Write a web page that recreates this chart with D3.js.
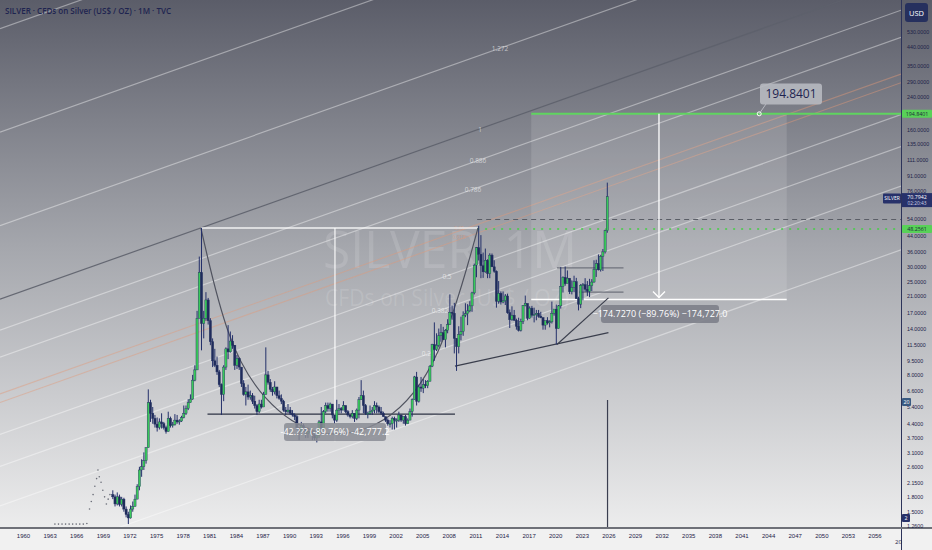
<!DOCTYPE html>
<html><head><meta charset="utf-8">
<script src="https://cdn.jsdelivr.net/npm/d3@7"></script>
<style>
body{margin:0;background:#f0f0f0;}
svg{display:block;font-family:"Open Sans","Noto Sans",Lato,sans-serif;}
</style>
</head><body>
<svg id="c" width="932" height="550"></svg>
<script>
// ---------------- DATA ----------------
const firstYear = 1970;
// quarterly closes, highs, lows (USD/oz), one row per year 1970..2025
const qClose = [
[1.80,1.65,1.80,1.64],[1.75,1.55,1.45,1.39],[1.55,1.60,1.75,2.04],[2.50,2.60,2.80,3.28],
[5.70,5.00,4.70,4.38],[4.20,4.50,4.40,4.20],[4.00,4.70,4.30,4.35],[4.60,4.50,4.55,4.75],
[5.00,5.30,5.70,5.95],[7.50,8.50,16.0,28.0],[15.0,16.0,20.0,15.5],[12.0,9.5,9.0,8.3],
[7.1,6.3,8.8,11.0],[10.6,12.1,11.5,9.0],[9.8,8.8,7.2,6.3],[6.5,6.1,6.2,5.8],
[5.5,5.1,5.6,5.4],[6.3,8.0,7.3,6.7],[6.5,6.9,6.2,6.0],[5.8,5.2,5.1,5.2],
[5.0,4.9,4.8,4.2],[4.0,4.3,4.1,3.9],[4.0,4.0,3.8,3.7],[3.8,4.5,4.1,5.1],
[5.5,5.3,5.6,4.9],[4.6,5.2,5.3,5.2],[5.5,5.1,4.9,4.8],[5.0,4.7,5.2,5.9],
[6.2,5.5,5.0,5.0],[5.1,5.2,5.5,5.4],[5.1,5.0,4.8,4.6],[4.4,4.4,4.7,4.6],
[4.6,4.9,4.6,4.8],[4.4,4.6,5.1,5.9],[7.8,5.8,6.9,6.8],[7.1,7.0,7.4,8.9],
[11.6,10.9,11.5,12.9],[13.4,12.3,13.8,14.8],[17.2,17.0,12.5,11.3],[13.1,13.6,16.6,16.9],
[17.5,18.6,21.8,30.6],[37.9,35.0,30.4,28.2],[32.5,27.6,34.6,30.0],[28.4,19.7,21.7,19.5],
[19.8,21.0,17.1,15.7],[16.6,15.6,14.5,13.8],[15.4,18.7,19.2,16.0],[18.1,16.6,16.7,17.0],
[16.4,16.1,14.7,15.5],[15.1,15.3,17.0,17.9],[14.1,18.6,23.6,26.4],[24.4,26.1,22.1,23.3],
[25.0,20.3,19.0,23.9],[24.1,22.8,22.2,23.8],[24.9,29.1,31.2,28.9],[34.1,36.0,46.6,70.8]
];
const qHigh = [
[1.95,1.85,1.90,1.85],[1.80,1.78,1.60,1.50],[1.62,1.70,1.85,2.10],[2.60,2.85,3.10,3.30],
[6.70,5.90,5.40,4.90],[4.75,4.70,5.00,4.50],[4.30,5.10,4.80,4.50],[4.95,4.90,4.65,4.85],
[5.50,5.50,5.95,6.30],[8.0,9.0,17.5,34.0],[48.3,17.5,22.0,20.5],[16.0,12.5,11.0,10.0],
[8.5,7.2,9.0,11.2],[14.7,13.6,13.0,11.5],[10.2,9.9,8.7,7.5],[6.9,7.1,6.6,6.4],
[6.2,5.6,5.9,5.9],[6.5,11.2,8.4,7.6],[6.9,7.4,6.9,6.6],[6.3,5.9,5.4,5.6],
[5.4,5.2,5.0,4.9],[4.1,4.5,4.4,4.1],[4.2,4.1,4.0,3.9],[3.9,4.6,5.4,5.2],
[5.7,5.7,5.7,5.4],[4.9,5.9,5.6,5.4],[5.8,5.5,5.2,4.9],[5.2,5.0,5.3,6.1],
[7.5,6.6,5.6,5.1],[5.5,5.4,5.8,5.7],[5.5,5.4,5.1,4.8],[4.7,4.6,4.8,4.8],
[4.7,5.1,4.9,4.8],[4.9,4.7,5.3,6.0],[7.9,8.3,7.1,7.8],[7.6,7.5,7.5,9.0],
[11.7,15.2,13.3,14.1],[14.9,14.4,14.0,15.8],[21.4,18.7,19.3,12.5],[14.5,16.3,17.4,19.2],
[19.0,19.7,22.1,31.2],[38.2,49.5,44.2,35.7],[37.5,32.9,35.4,35.3],[32.5,28.7,25.2,22.2],
[22.2,21.5,21.6,17.8],[18.5,17.7,15.9,16.1],[15.9,18.8,21.1,18.6],[18.5,18.6,18.2,17.7],
[17.7,17.3,16.2,15.5],[16.2,15.6,19.6,17.9],[18.9,18.8,29.9,26.7],[30.1,28.7,26.0,25.4],
[26.9,26.2,20.8,24.3],[24.6,26.1,25.2,25.9],[25.8,32.5,32.7,34.9],[34.6,37.3,47.2,84.0]
];
const qLow = [
[1.75,1.60,1.62,1.60],[1.60,1.50,1.40,1.29],[1.38,1.50,1.60,1.75],[1.95,2.30,2.50,2.70],
[3.30,4.50,4.40,4.20],[4.00,4.10,4.15,4.10],[3.90,4.00,4.20,4.20],[4.30,4.40,4.35,4.50],
[4.70,4.90,5.20,5.70],[5.90,7.40,8.50,16.0],[10.8,12.5,15.5,14.8],[11.5,8.8,8.8,8.0],
[6.9,4.9,5.8,8.5],[9.7,10.5,11.0,8.5],[8.6,8.5,6.9,6.2],[5.5,5.9,5.9,5.6],
[5.3,4.9,5.0,5.3],[5.4,6.3,7.1,6.5],[6.2,6.3,6.0,5.9],[5.6,5.1,4.9,5.0],
[4.9,4.8,4.6,4.1],[3.6,3.9,4.0,3.7],[3.7,3.9,3.6,3.6],[3.5,3.7,3.9,4.2],
[5.0,5.1,5.1,4.7],[4.4,4.5,5.0,5.0],[5.2,5.0,4.8,4.7],[4.7,4.5,4.6,4.7],
[5.9,5.0,4.9,4.7],[4.9,4.9,5.0,5.0],[5.0,4.9,4.8,4.5],[4.3,4.2,4.1,4.1],
[4.2,4.5,4.5,4.4],[4.3,4.4,4.6,4.8],[5.9,5.5,5.7,6.5],[6.4,6.8,6.8,7.4],
[8.8,9.5,10.7,11.2],[12.0,12.3,11.2,13.3],[14.8,15.7,10.4,8.4],[10.4,12.2,12.9,16.2],
[14.7,17.2,17.3,21.4],[26.4,32.4,26.1,26.2],[27.9,26.1,26.1,29.9],[27.9,18.2,19.1,18.9],
[19.2,18.8,16.9,14.2],[15.5,15.5,13.9,13.6],[13.6,14.9,18.5,15.6],[15.9,16.1,15.2,15.6],
[16.1,16.0,13.9,13.9],[14.8,14.3,15.0,16.5],[11.6,14.1,18.0,21.9],[23.8,24.6,21.5,21.4],
[22.0,20.4,17.6,18.1],[19.9,22.1,21.0,20.7],[22.3,24.7,26.5,28.7],[28.3,28.5,35.3,45.5]
];
// sparse early quotes drawn as dots (year, price)
const earlyDotYears  = [1963.6,1964.0,1964.4,1964.8,1965.2,1965.6,1966.0,1966.4,1966.8,1967.2,
                        1967.5,1967.7,1967.9,1968.1,1968.3,1968.45,1968.6,1968.8,1969.0,1969.2,1969.4,1969.6,1969.8];
const earlyDotPrices = [1.29,1.29,1.29,1.29,1.29,1.29,1.29,1.29,1.29,1.30,
                        1.55,1.70,1.85,2.05,2.25,2.50,2.30,2.15,1.95,1.80,1.65,1.75,1.85];

const yTicks = [530,440,350,290,240,160,135,111,91,76,54,44,36,30,25,21,17,14,11.5,9.5,8,6.6,5.4,4.4,3.7,3.1,2.6,2.15,1.8,1.5,1.26];
const xTickYears = [1960,1963,1966,1969,1972,1975,1978,1981,1984,1987,1990,1993,1996,1999,2002,2005,2008,
                    2011,2014,2017,2020,2023,2026,2029,2032,2035,2038,2041,2044,2047,2050,2053,2056,2059];

// drawing anchors (year, price)
const peak1980 = {year:1980.05, price:48.26};
const peak2011 = {year:2011.32, price:48.26};
const low1971  = {year:1971.9, price:1.29};
const support  = {from:1980.8, to:2008.7, price:4.95};
const resistDash = 53.5;
const target   = 194.8401;
const projLow  = 20.11;
const projFrom = 2017.3, projTo = 2046.1, projMid = 2031.7, targetLabelYear = 2043.0;
const measureX = 1995.17;
const boxLevels = [29.6, 22.0];
const measure1 = "-42.??? (-89.76%) -42,777.2";
const measure2 = "\u2212174.7270 (\u221289.76%) \u2212174,727.0";
const lastPrice = 70.7942;

// fib channel: level 0 through the 1971 low, level 1 through the 1980 high
const fibLevels = [0, 0.236, 0.382, 0.5, 0.786, 0.886, 1, 1.272, 1.618, 2];
const orangeLevels = [0.618, 0.65];
const labelLevels = ["0.236","0.382","0.5","0.618","0.65","0.786","0.886","1","1.272"];
const labelXs     = [430, 440, 447, 459, 459, 473, 478, 480, 500];

// ---------------- SCALES ----------------
const W = 932, H = 550, plotR = 901, plotB = 527;
const x = d3.scaleLinear().domain([1960, 2059]).range([23, 23 + 99*8.87]);
const y = d3.scaleLog().domain([1.26, 530]).range([526, 32]);

const svg = d3.select("#c");
const defs = svg.append("defs");
const bg = defs.append("linearGradient").attr("id","bg").attr("x1",0).attr("y1",0).attr("x2",0).attr("y2",1);
bg.append("stop").attr("offset","0%").attr("stop-color","#5b5d69");
bg.append("stop").attr("offset","45%").attr("stop-color","#a5a7ad");
bg.append("stop").attr("offset","100%").attr("stop-color","#f2f2f2");
defs.append("clipPath").attr("id","plotClip").append("rect").attr("x",0).attr("y",0).attr("width",plotR).attr("height",plotB);

svg.append("rect").attr("width",W).attr("height",H).attr("fill","url(#bg)");
svg.append("rect").attr("x",0).attr("y",plotB).attr("width",W).attr("height",H-plotB).attr("fill","#f1f1f1");

const g = svg.append("g").attr("clip-path","url(#plotClip)");

// watermark
g.append("text").attr("x",450).attr("y",268).attr("text-anchor","middle").attr("font-size",52)
  .attr("textLength",254).attr("lengthAdjust","spacingAndGlyphs")
  .attr("fill","#ffffff").attr("fill-opacity",0.13).text("SILVER, 1M");
g.append("text").attr("x",447).attr("y",306).attr("text-anchor","middle").attr("font-size",23)
  .attr("textLength",244).attr("lengthAdjust","spacingAndGlyphs")
  .attr("fill","#ffffff").attr("fill-opacity",0.13).text("CFDs on Silver (US$ / OZ)");

// fib channel lines
const p0 = [x(low1971.year), y(low1971.price)];
const p1 = [x(peak1980.year), y(peak1980.price)];
const slope = -0.355;
const b0 = p0[1] - slope*p0[0];
const b1 = p1[1] - slope*p1[0];
const bAt = L => b0 + L*(b1-b0);
fibLevels.forEach((L)=>{
  const b = bAt(L);
  g.append("line").attr("x1",0).attr("y1",b).attr("x2",plotR).attr("y2",b+slope*plotR)
    .attr("stroke", L===1 ? "#5d606c" : "#ffffff").attr("stroke-opacity", L===1?0.9:0.4).attr("stroke-width",1.2);
});
orangeLevels.forEach((L)=>{
  const b = bAt(L);
  g.append("line").attr("x1",0).attr("y1",b).attr("x2",plotR).attr("y2",b+slope*plotR)
    .attr("stroke","#e29a78").attr("stroke-opacity",0.45).attr("stroke-width",1.1);
});
// level labels
labelLevels.forEach((k,i)=>{
  const L = +k, xx = labelXs[i];
  const orange = orangeLevels.includes(L);
  g.append("text").attr("x",xx).attr("y",bAt(L)+slope*xx+ (orange?-1:3)).attr("text-anchor","middle").attr("font-size",orange?5:6.5)
   .attr("fill",orange?"#e29a78":"#ffffff").attr("fill-opacity",0.6).text(k);
});

// projection box
g.append("rect").attr("x",x(projFrom)).attr("y",y(target)).attr("width",x(projTo)-x(projFrom))
  .attr("height",y(projLow)-y(target)).attr("fill","#ffffff").attr("fill-opacity",0.12);

// horizontal lines
g.append("line").attr("x1",x(peak1980.year)).attr("x2",x(peak2011.year)).attr("y1",y(48.26)).attr("y2",y(48.26))
  .attr("stroke","#ffffff").attr("stroke-opacity",0.85).attr("stroke-width",1.5);
g.append("line").attr("x1",x(2011.2)).attr("x2",plotR).attr("y1",y(resistDash)).attr("y2",y(resistDash))
  .attr("stroke","#5a5d66").attr("stroke-width",1.2).attr("stroke-dasharray","5,4");
g.append("line").attr("x1",x(2011.2)).attr("x2",plotR).attr("y1",y(48.2561)+1).attr("y2",y(48.2561)+1)
  .attr("stroke","#44d044").attr("stroke-width",1.5).attr("stroke-dasharray","2,6");
g.append("line").attr("x1",x(support.from)).attr("x2",x(support.to)).attr("y1",y(support.price)).attr("y2",y(support.price))
  .attr("stroke","#2e3344").attr("stroke-width",1.3);
boxLevels.forEach((p,i)=>{
  g.append("line").attr("x1",x(i?2022.7:2020.2)).attr("x2",x(2027.7)).attr("y1",y(p)).attr("y2",y(p))
    .attr("stroke","#6f727c").attr("stroke-width",1.1);
});
// measure vertical 1
g.append("line").attr("x1",x(measureX)).attr("x2",x(measureX)).attr("y1",y(48.26)).attr("y2",y(3.55))
  .attr("stroke","#ffffff").attr("stroke-opacity",0.85).attr("stroke-width",1.3);

// target line & projection
g.append("line").attr("x1",x(projFrom)).attr("x2",plotR).attr("y1",y(target)).attr("y2",y(target))
  .attr("stroke","#5fd45f").attr("stroke-width",2);
g.append("line").attr("x1",x(projMid)).attr("x2",x(projMid)).attr("y1",y(target)).attr("y2",y(projLow)-2)
  .attr("stroke","#ffffff").attr("stroke-width",1.3);
g.append("path").attr("d",`M${x(projMid)-6},${y(projLow)-8} L${x(projMid)},${y(projLow)-2} L${x(projMid)+6},${y(projLow)-8}`)
  .attr("fill","none").attr("stroke","#ffffff").attr("stroke-width",1.3);
g.append("line").attr("x1",x(projFrom)).attr("x2",x(projTo)).attr("y1",y(projLow)).attr("y2",y(projLow))
  .attr("stroke","#ffffff").attr("stroke-width",1.3);

// cup curve
const cup = d3.line().curve(d3.curveBasis).x(d=>x(d[0])).y(d=>y(d[1]));
g.append("path").attr("d",cup([[1980.05,48.26],[1983,12],[1987,5.8],[1993.2,3.55],[2001,4.2],[2007,9],[2011.3,48.26]]))
  .attr("fill","none").attr("stroke","#50535f").attr("stroke-width",1.2);

// trend lines
g.append("line").attr("x1",x(2008.7)).attr("y1",y(8.9)).attr("x2",x(2026)).attr("y2",y(13.4)).attr("stroke","#3a3e4c").attr("stroke-width",1.3);
g.append("line").attr("x1",x(2020.2)).attr("y1",y(11.6)).attr("x2",x(2026)).attr("y2",y(20.5)).attr("stroke","#3a3e4c").attr("stroke-width",1.1);

// early dots
g.selectAll("circle.early").data(earlyDotYears).enter().append("circle")
  .attr("cx",(d)=>x(d)).attr("cy",(d,i)=>y(earlyDotPrices[i])).attr("r",0.8).attr("fill","#6a6d78");

// candles
const candles = [];
let prev = 1.85;
qClose.forEach((row,yi)=>row.forEach((c,q)=>{
  candles.push({t: firstYear+yi+(q+0.5)/4, o:prev, c:c, h:qHigh[yi][q], l:qLow[yi][q]});
  prev = c;
}));
const cw = 1.1;
const cg = g.append("g");
candles.forEach(d=>{
  const up = d.c>=d.o;
  const col = up ? "#39c95a" : "#1f2b5c";
  cg.append("line").attr("x1",x(d.t)).attr("x2",x(d.t)).attr("y1",y(d.h)).attr("y2",y(d.l)).attr("stroke","#24306a").attr("stroke-width",1);
  const y0 = Math.min(y(d.o),y(d.c)), y1 = Math.max(y(d.o),y(d.c));
  cg.append("rect").attr("x",x(d.t)-cw).attr("width",cw*2).attr("y",y0).attr("height",Math.max(1,y1-y0))
    .attr("fill",col).attr("stroke","#22305e").attr("stroke-width",0.4);
});

// vertical current line at bottom (volume spike)
g.append("line").attr("x1",x(2025.9)).attr("x2",x(2025.9)).attr("y1",400).attr("y2",plotB).attr("stroke","#3a3e50").attr("stroke-width",1.2);

// labels on measures
function boxLabel(cx, cy, w, h, txt, fs, color, bgc, bgo){
  svg.append("rect").attr("x",cx-w/2).attr("y",cy-h/2).attr("width",w).attr("height",h).attr("rx",3)
    .attr("fill",bgc).attr("fill-opacity",bgo);
  svg.append("text").attr("x",cx).attr("y",cy+fs*0.35).attr("text-anchor","middle").attr("font-size",fs)
    .attr("fill",color).text(txt);
}
boxLabel(335, 432, 102, 18, measure1, 9, "#ffffff", "#8a8c94", 0.85);
boxLabel(660, 314, 118, 18, measure2, 9, "#ffffff", "#7d8089", 0.9);
boxLabel(791, 94, 62, 21, d3.format(".4f")(target), 12, "#1e2450", "#b7b9c0", 0.9);
svg.append("line").attr("x1",x(targetLabelYear)).attr("y1",y(target)).attr("x2",766).attr("y2",104).attr("stroke","#b7b9c0");
svg.append("circle").attr("cx",x(targetLabelYear)).attr("cy",y(target)).attr("r",2).attr("fill","none").attr("stroke","#fff");

// ---------------- AXES ----------------
svg.append("line").attr("x1",plotR+0.5).attr("x2",plotR+0.5).attr("y1",0).attr("y2",H).attr("stroke","#2c335a").attr("stroke-width",1);
svg.append("line").attr("x1",0).attr("x2",W).attr("y1",plotB+1).attr("y2",plotB+1).attr("stroke","#6e7078").attr("stroke-width",2);

const yAxis = d3.axisRight(y).tickValues(yTicks).tickSize(0).tickFormat(d3.format(".4f"));
const ya = svg.append("g").attr("transform",`translate(${plotR+3},0)`).call(yAxis);
ya.select(".domain").remove();
ya.selectAll("text").attr("font-size",5.3).attr("fill","#1d2248").attr("dx",0);

const xAxis = d3.axisBottom(x).tickValues(xTickYears).tickSize(0).tickFormat(d=>String(d));
const xa = svg.append("g").attr("transform",`translate(0,${plotB+4})`).call(xAxis);
xa.select(".domain").remove();
xa.selectAll("text").attr("font-size",6).attr("fill","#1d2248");
xa.selectAll(".tick").filter(d=>x(d)>plotR-6).remove();
svg.append("text").attr("x",895).attr("y",544).attr("font-size",6).attr("fill","#1d2248").text("20");

// right-side badges
function badge(x0,yc,w,h,txt,fill,tc,fs){
  svg.append("rect").attr("x",x0).attr("y",yc-h/2).attr("width",w).attr("height",h).attr("fill",fill).attr("rx",1);
  svg.append("text").attr("x",x0+w/2).attr("y",yc+fs*0.35).attr("text-anchor","middle").attr("font-size",fs).attr("fill",tc).text(txt);
}
svg.append("rect").attr("x",905).attr("y",3).attr("width",23).attr("height",19).attr("rx",3).attr("fill","#26305e");
svg.append("text").attr("x",916.5).attr("y",15.5).attr("text-anchor","middle").attr("font-size",7.5).attr("fill","#ffffff").text("USD");
badge(902, y(target), 30, 8, d3.format(".4f")(target), "#58d158", "#1c2a3a", 5.3);
badge(902, y(48.2561)+1, 30, 8, "48.2561", "#58d158", "#1c2a3a", 5.3);
const lpY = y(lastPrice)+3;
badge(883, lpY-1, 18, 10, "SILVER", "#27316a", "#ffffff", 5);
svg.append("rect").attr("x",902).attr("y",lpY-6.5).attr("width",30).attr("height",14).attr("fill","#27316a");
svg.append("text").attr("x",917).attr("y",lpY-0.8).attr("text-anchor","middle").attr("font-size",5.3).attr("fill","#fff").text(d3.format(".4f")(lastPrice));
svg.append("text").attr("x",917).attr("y",lpY+5.5).attr("text-anchor","middle").attr("font-size",4.8).attr("fill","#cfd3e6").text("02:20:43");
badge(902, 402, 9, 8, "20", "#3a5a82", "#fff", 5.3);
badge(902, 518, 8, 8, "2", "#27316a", "#fff", 5.3);

// title
svg.append("text").attr("x",5).attr("y",14).attr("font-size",8).attr("fill","#1e2450").attr("font-weight",600)
  .text("SILVER \u00b7 CFDs on Silver (US$ / OZ) \u00b7 1M \u00b7 TVC");
</script>
</body></html>
